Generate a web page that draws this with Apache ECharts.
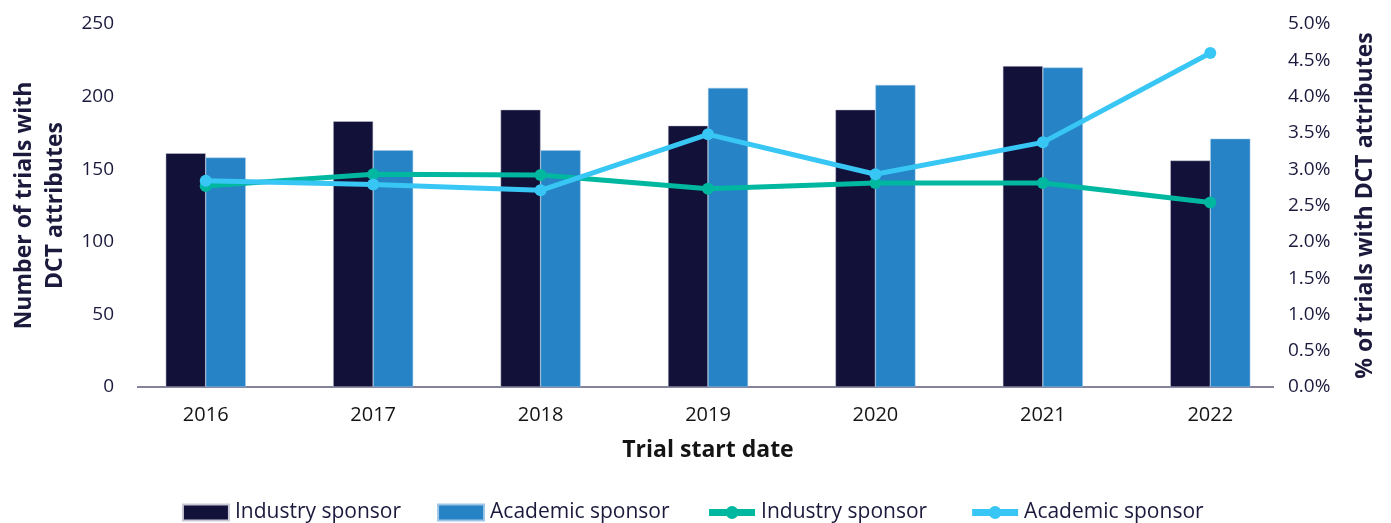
<!DOCTYPE html>
<html><head><meta charset="utf-8">
<script src="https://cdn.jsdelivr.net/npm/echarts@6/dist/echarts.min.js"></script>
<style>html,body{margin:0;padding:0;background:#fff}#c{width:1391px;height:523px}</style>
</head><body><div id="c"></div>
<script>
const years = ['2016','2017','2018','2019','2020','2021','2022'];
const industryCount = [161,183,191,180,191,221,156];
const academicCount = [158,163,163,206,208,220,171];
const industryPct = [2.77,2.93,2.92,2.73,2.81,2.81,2.54];
const academicPct = [2.84,2.79,2.71,3.48,2.93,3.37,4.60];

const txt = '#1b1a3d';
const blk = '#141414';
const font = 'Open Sans';
const chart = echarts.init(document.getElementById('c'), null, {renderer:'canvas'});
chart.setOption({
  animation:false,
  textStyle:{fontFamily:font,color:txt},
  grid:{left:122,right:97,top:24,bottom:136,outerBoundsMode:'none',containLabel:false},
  graphic:[{type:'line',shape:{x1:137,y1:387,x2:1274,y2:387},style:{stroke:'#5b5a78',lineWidth:1.5},z:0}],
  legend:{
    bottom:-5,left:'center',itemWidth:46,itemHeight:16,itemGap:36,
    textStyle:{fontSize:21,color:txt,fontFamily:font,padding:[0,0,0,1]},
    data:[
      {name:'Industry sponsor',icon:'rect'},
      {name:'Academic sponsor',icon:'rect'},
      {name:'Industry sponsor ',lineStyle:{width:7}},
      {name:'Academic sponsor ',lineStyle:{width:7}}
    ]
  },
  xAxis:{
    type:'category',data:years,
    axisLine:{show:false},
    axisTick:{show:false},
    axisLabel:{fontSize:20,color:blk,margin:18},
    name:'Trial start date',nameLocation:'middle',nameGap:52,
    nameTextStyle:{fontSize:23,fontWeight:'bold',color:blk}
  },
  yAxis:[{
    type:'value',min:0,max:250,interval:50,
    splitLine:{show:false},axisLine:{show:false},axisTick:{show:false},
    axisLabel:{fontSize:19,color:txt,margin:8},
    name:'Number of trials with\nDCT attributes',nameLocation:'middle',nameGap:50,nameRotate:90,
    nameTextStyle:{fontSize:23,fontWeight:'bold',color:txt,lineHeight:31}
  },{
    type:'value',min:0,max:5,interval:0.5,position:'right',
    splitLine:{show:false},axisLine:{show:false},axisTick:{show:false},
    axisLabel:{fontSize:19,color:txt,margin:-6,formatter:v=>v.toFixed(1)+'%'},
    name:'% of trials with DCT attributes',nameLocation:'middle',nameGap:60,nameRotate:90,
    nameTextStyle:{fontSize:23,fontWeight:'bold',color:txt}
  }],
  series:[
    {name:'Industry sponsor',type:'bar',data:industryCount,barWidth:40,barGap:'0%',
     itemStyle:{color:'#12113a',borderColor:'#c9c8d6',borderWidth:0.5}},
    {name:'Academic sponsor',type:'bar',data:academicCount,barWidth:40,
     itemStyle:{color:'#2683c6',borderColor:'#9fc6e6',borderWidth:0.5}},
    {name:'Industry sponsor ',type:'line',yAxisIndex:1,data:industryPct,
     symbol:'circle',symbolSize:12,lineStyle:{width:5,color:'#00b7a0'},itemStyle:{color:'#00b7a0'}},
    {name:'Academic sponsor ',type:'line',yAxisIndex:1,data:academicPct,
     symbol:'circle',symbolSize:12,lineStyle:{width:5,color:'#38c6f4'},itemStyle:{color:'#38c6f4'}}
  ]
});
</script></body></html>
